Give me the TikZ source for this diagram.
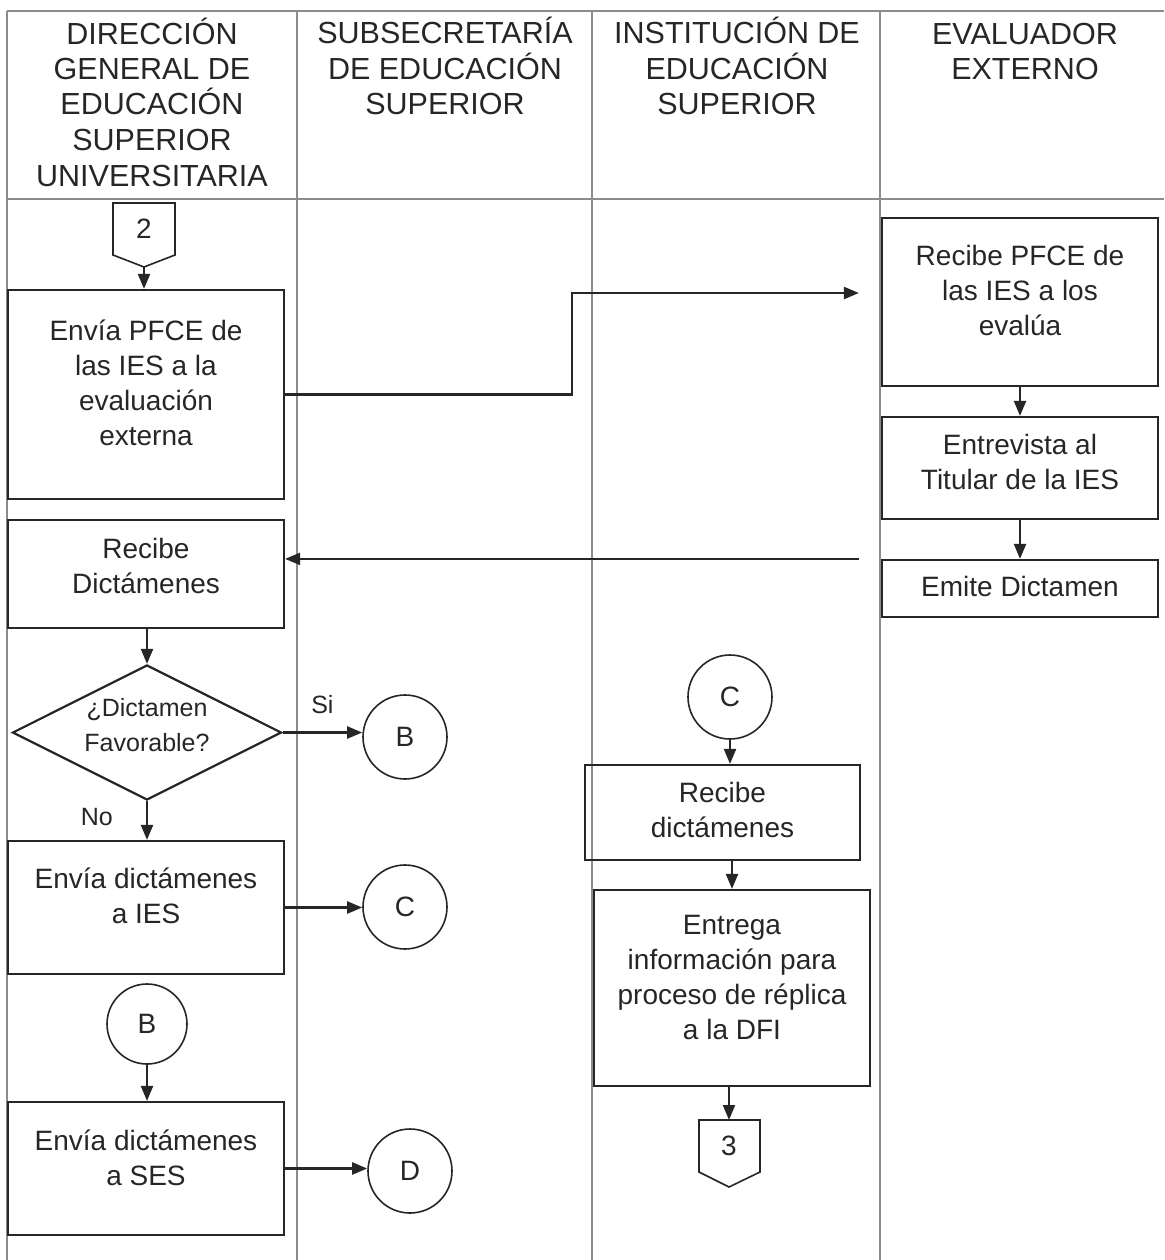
\documentclass[tikz,border=0pt]{standalone}
\usepackage{fontspec}
\setmainfont{Liberation Sans}
\usetikzlibrary{shapes.geometric,arrows.meta,positioning}

\newcommand{\letracab}{\fontsize{30.5}{35.5}\selectfont}
\newcommand{\letracaja}{\fontsize{28}{35}\selectfont}
\newcommand{\letradec}{\fontsize{25}{35}\selectfont}

\tikzset{
    carril/.style={draw=black!45, line width=1.1pt},
    cabecera/.style={anchor=base, align=center, font=\letracab, text=black!85, inner sep=0pt},
    caja/.style={draw=black!85, line width=2.2pt, align=center, font=\letracaja, text=black!85, inner sep=0pt},
    subir/.style={text depth=#1},
    decision/.style={diamond, aspect=2, draw=black!85, line width=2.2pt, align=center, font=\letradec, text=black!85, inner sep=-6pt},
    conector/.style={circle, draw=black!85, line width=1.6pt, font=\letracaja, text=black!85, minimum size=84pt, inner sep=0pt},
    pagina/.style={draw=black!85, line width=1.6pt},
    numero/.style={font=\letracaja, text=black!85, inner sep=0pt},
    etiqueta/.style={font=\letradec, text=black!85, inner sep=0pt},
    flecha/.style={draw=black!85, line width=2.2pt, -{Triangle[length=15pt,width=12pt]}}
}

\begin{document}
\begin{tikzpicture}[x=1pt,y=-1pt]
        \useasboundingbox (0,0) rectangle (1164,1260);

        %%%%%%%%% Carriles %%%%%%%%%
        \draw[carril] (7,11) -- (1164,11);
        \draw[carril] (7,199) -- (1164,199);
        \foreach \x in {7,297,592,880}
            \draw[carril] (\x,11) -- (\x,1260);

        %%%%%%%%% Cabeceras %%%%%%%%%
        \node[cabecera] (cabDGESU) at (152,186) {DIRECCIÓN\\GENERAL DE\\EDUCACIÓN\\SUPERIOR\\UNIVERSITARIA};
        \node[cabecera] (cabSES) at (445,115) {SUBSECRETARÍA\\DE EDUCACIÓN\\SUPERIOR};
        \node[cabecera] (cabIES) at (737,115) {INSTITUCIÓN DE\\EDUCACIÓN\\SUPERIOR};
        \node[cabecera] (cabEval) at (1025,80) {EVALUADOR\\EXTERNO};

        %%%%%%%%% Conectores de pagina %%%%%%%%%
        \node[numero] (sal2) at (144,229) {2};
        \draw[pagina] (113,203) -- (175,203) -- (175,255) -- (144,267) -- (113,255) -- cycle;
        \coordinate (sal2punta) at (144,267);

        \node[numero] (sal3) at (729,1146) {3};
        \draw[pagina] (699,1120) -- (760,1120) -- (760,1172) -- (729,1187) -- (699,1172) -- cycle;
        \coordinate (sal3arriba) at (729,1120);

        %%%%%%%%% Cajas %%%%%%%%%
        \node[caja, subir=23pt, minimum width=276pt, minimum height=209pt] (enviaPFCE) at (146,394.5) {Envía PFCE de\\las IES a la\\evaluación\\externa};
        \node[caja, subir=23pt, minimum width=276pt, minimum height=168pt] (recibePFCE) at (1020,302) {Recibe PFCE de\\las IES a los\\evalúa};
        \node[caja, subir=12pt, minimum width=276pt, minimum height=102pt] (entrevista) at (1020,468) {Entrevista al\\Titular de la IES};
        \node[caja, subir=4pt, minimum width=276pt, minimum height=57pt] (emite) at (1020,588.5) {Emite Dictamen};
        \node[caja, subir=16pt, minimum width=276pt, minimum height=108pt] (recibeDict) at (146,574) {Recibe\\Dictámenes};
        \node[decision, subir=16pt, minimum width=269pt, minimum height=135pt] (favorable) at (147,732.5) {¿Dictamen\\Favorable?};
        \node[caja, subir=23pt, minimum width=276pt, minimum height=133pt] (enviaIES) at (146,907.5) {Envía dictámenes\\a IES};
        \node[caja, subir=22pt, minimum width=276pt, minimum height=133pt] (enviaSES) at (146,1168.5) {Envía dictámenes\\a SES};
        \node[caja, subir=6pt, minimum width=275pt, minimum height=95pt] (recibeIES) at (722.5,812.5) {Recibe\\dictámenes};
        \node[caja, subir=21pt, minimum width=276pt, minimum height=196pt] (entrega) at (732,988) {Entrega\\información para\\proceso de réplica\\a la DFI};

        %%%%%%%%% Circulos %%%%%%%%%
        \node[conector] (conB1) at (405,737) {B};
        \node[conector] (conC1) at (405,907) {C};
        \node[conector, minimum size=80pt] (conB2) at (147,1024) {B};
        \node[conector] (conD) at (410,1171) {D};
        \node[conector] (conC2) at (730,697) {C};

        %%%%%%%%% Flechas %%%%%%%%%
        \coordinate (codo) at (572,293);
        \draw[flecha] (sal2punta) -- (sal2punta |- enviaPFCE.north);
        \draw[flecha, shorten >=22pt] (enviaPFCE.east) -| (codo) -- (codo -| recibePFCE.west);
        \draw[flecha] (recibePFCE.south) -- (entrevista.north);
        \draw[flecha] (entrevista.south) -- (emite.north);
        \draw[flecha, shorten <=22pt] (emite.north west) -- (emite.north west -| recibeDict.east);
        \draw[flecha] (favorable.north |- recibeDict.south) -- (favorable.north);
        \draw[flecha] (favorable.east) -- node[etiqueta, above=18pt] {Si} (favorable.east -| conB1.west);
        \draw[flecha] (favorable.south) -- node[etiqueta, pos=0.4, left=33pt] {No} (favorable.south |- enviaIES.north);
        \draw[flecha] (enviaIES.east) -- (enviaIES.east -| conC1.west);
        \draw[flecha] (conB2.south) -- (conB2.south |- enviaSES.north);
        \draw[flecha] (enviaSES.east) -- (enviaSES.east -| conD.west);
        \draw[flecha] (conC2.south) -- (conC2.south |- recibeIES.north);
        \draw[flecha] (entrega.north |- recibeIES.south) -- (entrega.north);
        \draw[flecha] (entrega.south -| sal3arriba) -- (sal3arriba);
    \end{tikzpicture}
\end{document}
